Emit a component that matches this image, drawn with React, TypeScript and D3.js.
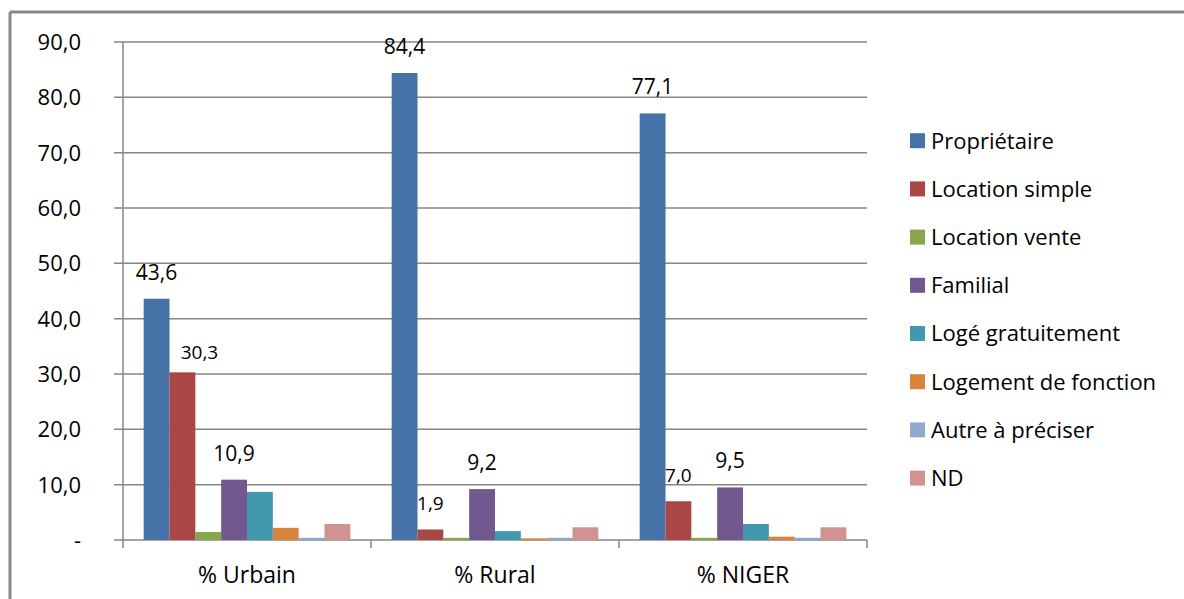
import React from "react";
import * as d3 from "d3";

const categories = ["% Urbain", "% Rural", "% NIGER"];
const seriesNames = [
  "Propriétaire",
  "Location simple",
  "Location vente",
  "Familial",
  "Logé gratuitement",
  "Logement de fonction",
  "Autre à préciser",
  "ND",
];
const seriesColors = ["#4572A7", "#AA4643", "#89A54E", "#71588F", "#4198AF", "#DB843D", "#93A9CF", "#D19392"];
// values per series, in category order
const proprietaire = [43.6, 84.4, 77.1];
const locationSimple = [30.3, 1.9, 7.0];
const locationVente = [1.45, 0.4, 0.4];
const familial = [10.9, 9.2, 9.5];
const logeGratuitement = [8.7, 1.6, 2.9];
const logementFonction = [2.2, 0.3, 0.6];
const autre = [0.4, 0.4, 0.4];
const nd = [2.9, 2.3, 2.3];
const seriesValues = [proprietaire, locationSimple, locationVente, familial, logeGratuitement, logementFonction, autre, nd];
const labeledSeries = [0, 1, 3];
const yTicks = [0, 10, 20, 30, 40, 50, 60, 70, 80, 90];

const fmt = (v: number) => (v === 0 ? "-" : v.toFixed(1).replace(".", ","));

export default function App() {
  const W = 1184, H = 599;
  const left = 123, right = 867, top = 42, bottom = 540;
  const x0 = d3.scaleBand<string>().domain(categories).range([left, right]).padding(0);
  const x1 = d3.scaleBand<string>().domain(seriesNames).range([0, x0.bandwidth()]).paddingInner(0).paddingOuter(0.8);
  const y = d3.scaleLinear().domain([0, 90]).range([bottom, top]);
  const grid = "#868686";
  const font = "'Open Sans', 'Liberation Sans', sans-serif";
  return (
    <svg width={W} height={H} style={{ position: "absolute", left: 0, top: 0, background: "#fff" }}>
      <rect x={0} y={0} width={W} height={H} fill="#fff" />
      {/* frame */}
      <line x1={10} y1={12} x2={W} y2={12} stroke="#888" strokeWidth={3} />
      <line x1={10} y1={12} x2={10} y2={H} stroke="#888" strokeWidth={3} />
      {/* gridlines + y ticks */}
      {yTicks.map((t) => (
        <g key={t}>
          <line x1={114} x2={right} y1={y(t)} y2={y(t)} stroke={grid} strokeWidth={1.5} />
          <text x={81} y={y(t)} dy="0.36em" textAnchor="end" fontFamily={font} fontSize={22} fill="#000">
            {fmt(t)}
          </text>
        </g>
      ))}
      <line x1={left} x2={left} y1={top} y2={bottom} stroke={grid} strokeWidth={1.5} />
      {/* x category ticks */}
      {[left, ...categories.map((c) => (x0(c) as number) + x0.bandwidth())].map((xv, i) => (
        <line key={i} x1={xv} x2={xv} y1={bottom} y2={bottom + 8} stroke={grid} strokeWidth={1.5} />
      ))}
      {/* bars */}
      {categories.map((c, ci) => (
        <g key={c} transform={`translate(${x0(c)},0)`}>
          {seriesNames.map((s, si) => {
            const v = seriesValues[si][ci];
            return (
              <rect key={s} x={x1(s)} width={x1.bandwidth()} y={y(v)} height={bottom - y(v)} fill={seriesColors[si]} />
            );
          })}
          {labeledSeries.map((si) => {
            const v = seriesValues[si][ci];
            const s = seriesNames[si];
            const cx = (x1(s) as number) + x1.bandwidth() / 2 + (si === 1 && ci === 0 ? 17 : 0);
            const off = si === 1 && ci === 0 ? 13 : 19;
            return (
              <text key={s} x={cx} y={y(v) - off} textAnchor="middle" fontFamily={font} fontSize={si === 1 ? 19 : 21} fill="#000">
                {fmt(v)}
              </text>
            );
          })}
          <text x={x0.bandwidth() / 2} y={583} textAnchor="middle" fontFamily={font} fontSize={23} fill="#000">
            {c}
          </text>
        </g>
      ))}
      {/* legend */}
      {seriesNames.map((s, i) => {
        const cy = 140.7 + i * 48.2;
        return (
          <g key={s}>
            <rect x={910} y={cy - 7.5} width={15} height={15} fill={seriesColors[i]} />
            <text x={931} y={cy} dy="0.36em" fontFamily={font} fontSize={22} fill="#000">
              {s}
            </text>
          </g>
        );
      })}
    </svg>
  );
}
